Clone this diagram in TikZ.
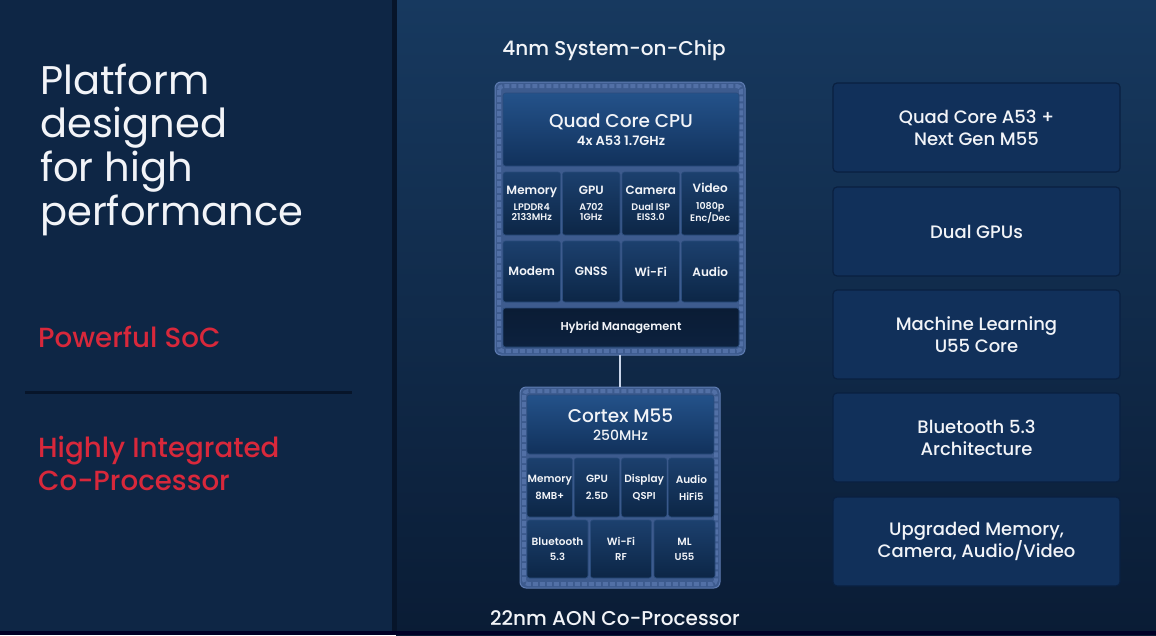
\documentclass[tikz,border=0pt]{standalone}
\usepackage{fontspec}
\setmainfont{Poppins}
\newfontfamily\pmed{Poppins Medium}
\newfontfamily\psemi{Poppins SemiBold}
\definecolor{leftbg}{HTML}{0E2645}
\definecolor{righttop}{HTML}{17395F}
\definecolor{rightbot}{HTML}{0A1C35}
\definecolor{divc}{HTML}{07152A}
\definecolor{qred}{HTML}{D8283B}
\definecolor{framec}{HTML}{3D5B8E}
\definecolor{framedot}{HTML}{5270A6}
\definecolor{frameedge}{HTML}{5E7CB2}
\definecolor{celltop}{HTML}{1C406E}
\definecolor{cellbot}{HTML}{0C2646}
\definecolor{cellline}{HTML}{2A4C7C}
\definecolor{cputop}{HTML}{24528A}
\definecolor{cpubot}{HTML}{11315B}
\definecolor{hybc}{HTML}{0C213E}
\definecolor{boxfill}{HTML}{11305A}
\definecolor{boxline}{HTML}{0A2040}
\definecolor{txtc}{HTML}{F2F4F8}
\definecolor{connc}{HTML}{C9D5EA}
\tikzset{
  framebox/.style={rounded corners=6, fill=framec, draw=frameedge, line width=1, anchor=north west, inner sep=0, outer sep=0},
  frametex/.style={draw=framedot, line width=4, dash pattern=on 5pt off 2pt, rounded corners=4},
  cellbox/.style={rounded corners=2.5, top color=celltop, bottom color=cellbot, draw=cellline, line width=0.6, anchor=north west, inner sep=0, outer sep=0, align=center, text=txtc},
  cpubox/.style={cellbox, top color=cputop, bottom color=cpubot},
  hybbox/.style={cellbox, top color=hybc!85!black, bottom color=hybc, fill=hybc},
  sidebox/.style={rounded corners=4, fill=boxfill, draw=boxline, line width=1.2, anchor=north west, inner sep=0, outer sep=0, minimum width=287, minimum height=89, align=center, text=txtc, font=\pmed\fontsize{18}{22}\selectfont},
  socc/.style={cellbox, minimum width=57.5, minimum height=63, font=\psemi\fontsize{12}{10}\selectfont},
  socd/.style={cellbox, minimum width=57.5, minimum height=61, font=\psemi\fontsize{12}{10}\selectfont},
  copc/.style={cellbox, minimum width=45.5, minimum height=59, font=\psemi\fontsize{10.5}{17}\selectfont},
  copd/.style={cellbox, minimum width=61, minimum height=58, font=\psemi\fontsize{10.5}{15}\selectfont},
  conn/.style={draw=connc, line width=2.5},
  heading/.style={text=txtc, font=\pmed\fontsize{20}{24}\selectfont, inner sep=0},
  redtxt/.style={text=qred, font=\pmed\fontsize{27.7}{33}\selectfont, inner sep=0, align=left},
}
\newcommand{\subtx}[1]{{\fontsize{9.5}{10}\selectfont #1}}
\begin{document}
\begin{tikzpicture}[x=1pt,y=-1pt]
\useasboundingbox (0,0) rectangle (1156,635);
% backgrounds
\fill[leftbg] (0,0) rectangle (396,635);
\shade[top color=righttop, bottom color=rightbot] (396,0) rectangle (1156,635);
\fill[divc] (392,0) rectangle (397,635);
\fill[black!85!blue] (0,631) rectangle (1156,635);

% left texts
\node[anchor=north west, align=left, text=txtc, inner sep=0, font=\fontsize{40}{43.6}\selectfont] (title) at (40,63.5) {Platform\\designed\\for high\\performance};
\node[redtxt, anchor=base west] (soctxt) at (38,347) {Powerful SoC};
\draw[line width=3, divc] (25,392) -- (352,392);
\node[redtxt, anchor=north west] (coptxt) at (38,436) {Highly Integrated\\Co-Processor};

% SoC
\node[heading] (socttl) at (614,50) {4nm System-on-Chip};
\node[framebox, minimum width=250, minimum height=273] (soc) at (495,82) {};
\draw[frametex] ([shift={(4,4)}]soc.north west) rectangle ([shift={(-4,-4)}]soc.south east);
\node[cpubox, minimum width=236, minimum height=73, font=\pmed\fontsize{18.5}{18}\selectfont] (cpu) at (503,93) {Quad Core CPU\\{\psemi\fontsize{13}{13}\selectfont 4x A53 1.7GHz}};
\node[socc] (mem) at (503,172) {Memory\\[6.5pt]\subtx{LPDDR4}\\\subtx{2133MHz}};
\node[socc] (gpu) at (562.5,172) {GPU\\[6.5pt]\subtx{A702}\\\subtx{1GHz}};
\node[socc] (cam) at (622,172) {Camera\\[6.5pt]\subtx{Dual ISP}\\\subtx{EIS3.0}};
\node[socc] (vid) at (681.5,172) {Video\\[6.5pt]\subtx{1080p}\\\subtx{Enc/Dec}};
\node[socd] (modem) at (503,241) {Modem};
\node[socd] (gnss) at (562.5,241) {GNSS};
\node[socd] (wifi) at (622,241) {Wi-Fi};
\node[socd] (audio) at (681.5,241) {Audio};
\node[hybbox, minimum width=236, minimum height=39, font=\psemi\fontsize{11.5}{12}\selectfont] (hyb) at (503,308) {Hybrid Management};

% Co-processor
\node[framebox, minimum width=200, minimum height=201] (cop) at (520,387) {};
\draw[frametex] ([shift={(4,4)}]cop.north west) rectangle ([shift={(-4,-4)}]cop.south east);
\node[cpubox, minimum width=187, minimum height=59, font=\pmed\fontsize{18.5}{18}\selectfont] (m55) at (527,395) {Cortex M55\\{\fontsize{14}{14}\selectfont 250MHz}};
\node[copc] (cmem) at (527,458) {Memory\\{\fontsize{10}{10}\selectfont 8MB+}};
\node[copc] (cgpu) at (574.2,458) {GPU\\{\fontsize{10}{10}\selectfont 2.5D}};
\node[copc] (cdisp) at (621.4,458) {Display\\{\fontsize{10}{10}\selectfont QSPI}};
\node[copc] (caud) at (668.6,458) {Audio\\{\fontsize{10}{10}\selectfont HiFi5}};
\node[copd] (cbt) at (527,520) {Bluetooth\\{\fontsize{10}{10}\selectfont 5.3}};
\node[copd] (cwifi) at (590.5,520) {Wi-Fi\\{\fontsize{10}{10}\selectfont RF}};
\node[copd] (cml) at (654,520) {ML\\{\fontsize{10}{10}\selectfont U55}};
\node[heading] (copttl) at (615,618) {22nm AON Co-Processor};

\draw[conn] (soc.south) -- (cop.north);

% right boxes
\node[sidebox] (r1) at (833,83) {Quad Core A53 +\\Next Gen M55};
\node[sidebox] (r2) at (833,187) {Dual GPUs};
\node[sidebox] (r3) at (833,290) {Machine Learning\\U55 Core};
\node[sidebox] (r4) at (833,393) {Bluetooth 5.3\\Architecture};
\node[sidebox] (r5) at (833,497) {Upgraded Memory,\\Camera, Audio/Video};
\end{tikzpicture}
\end{document}
